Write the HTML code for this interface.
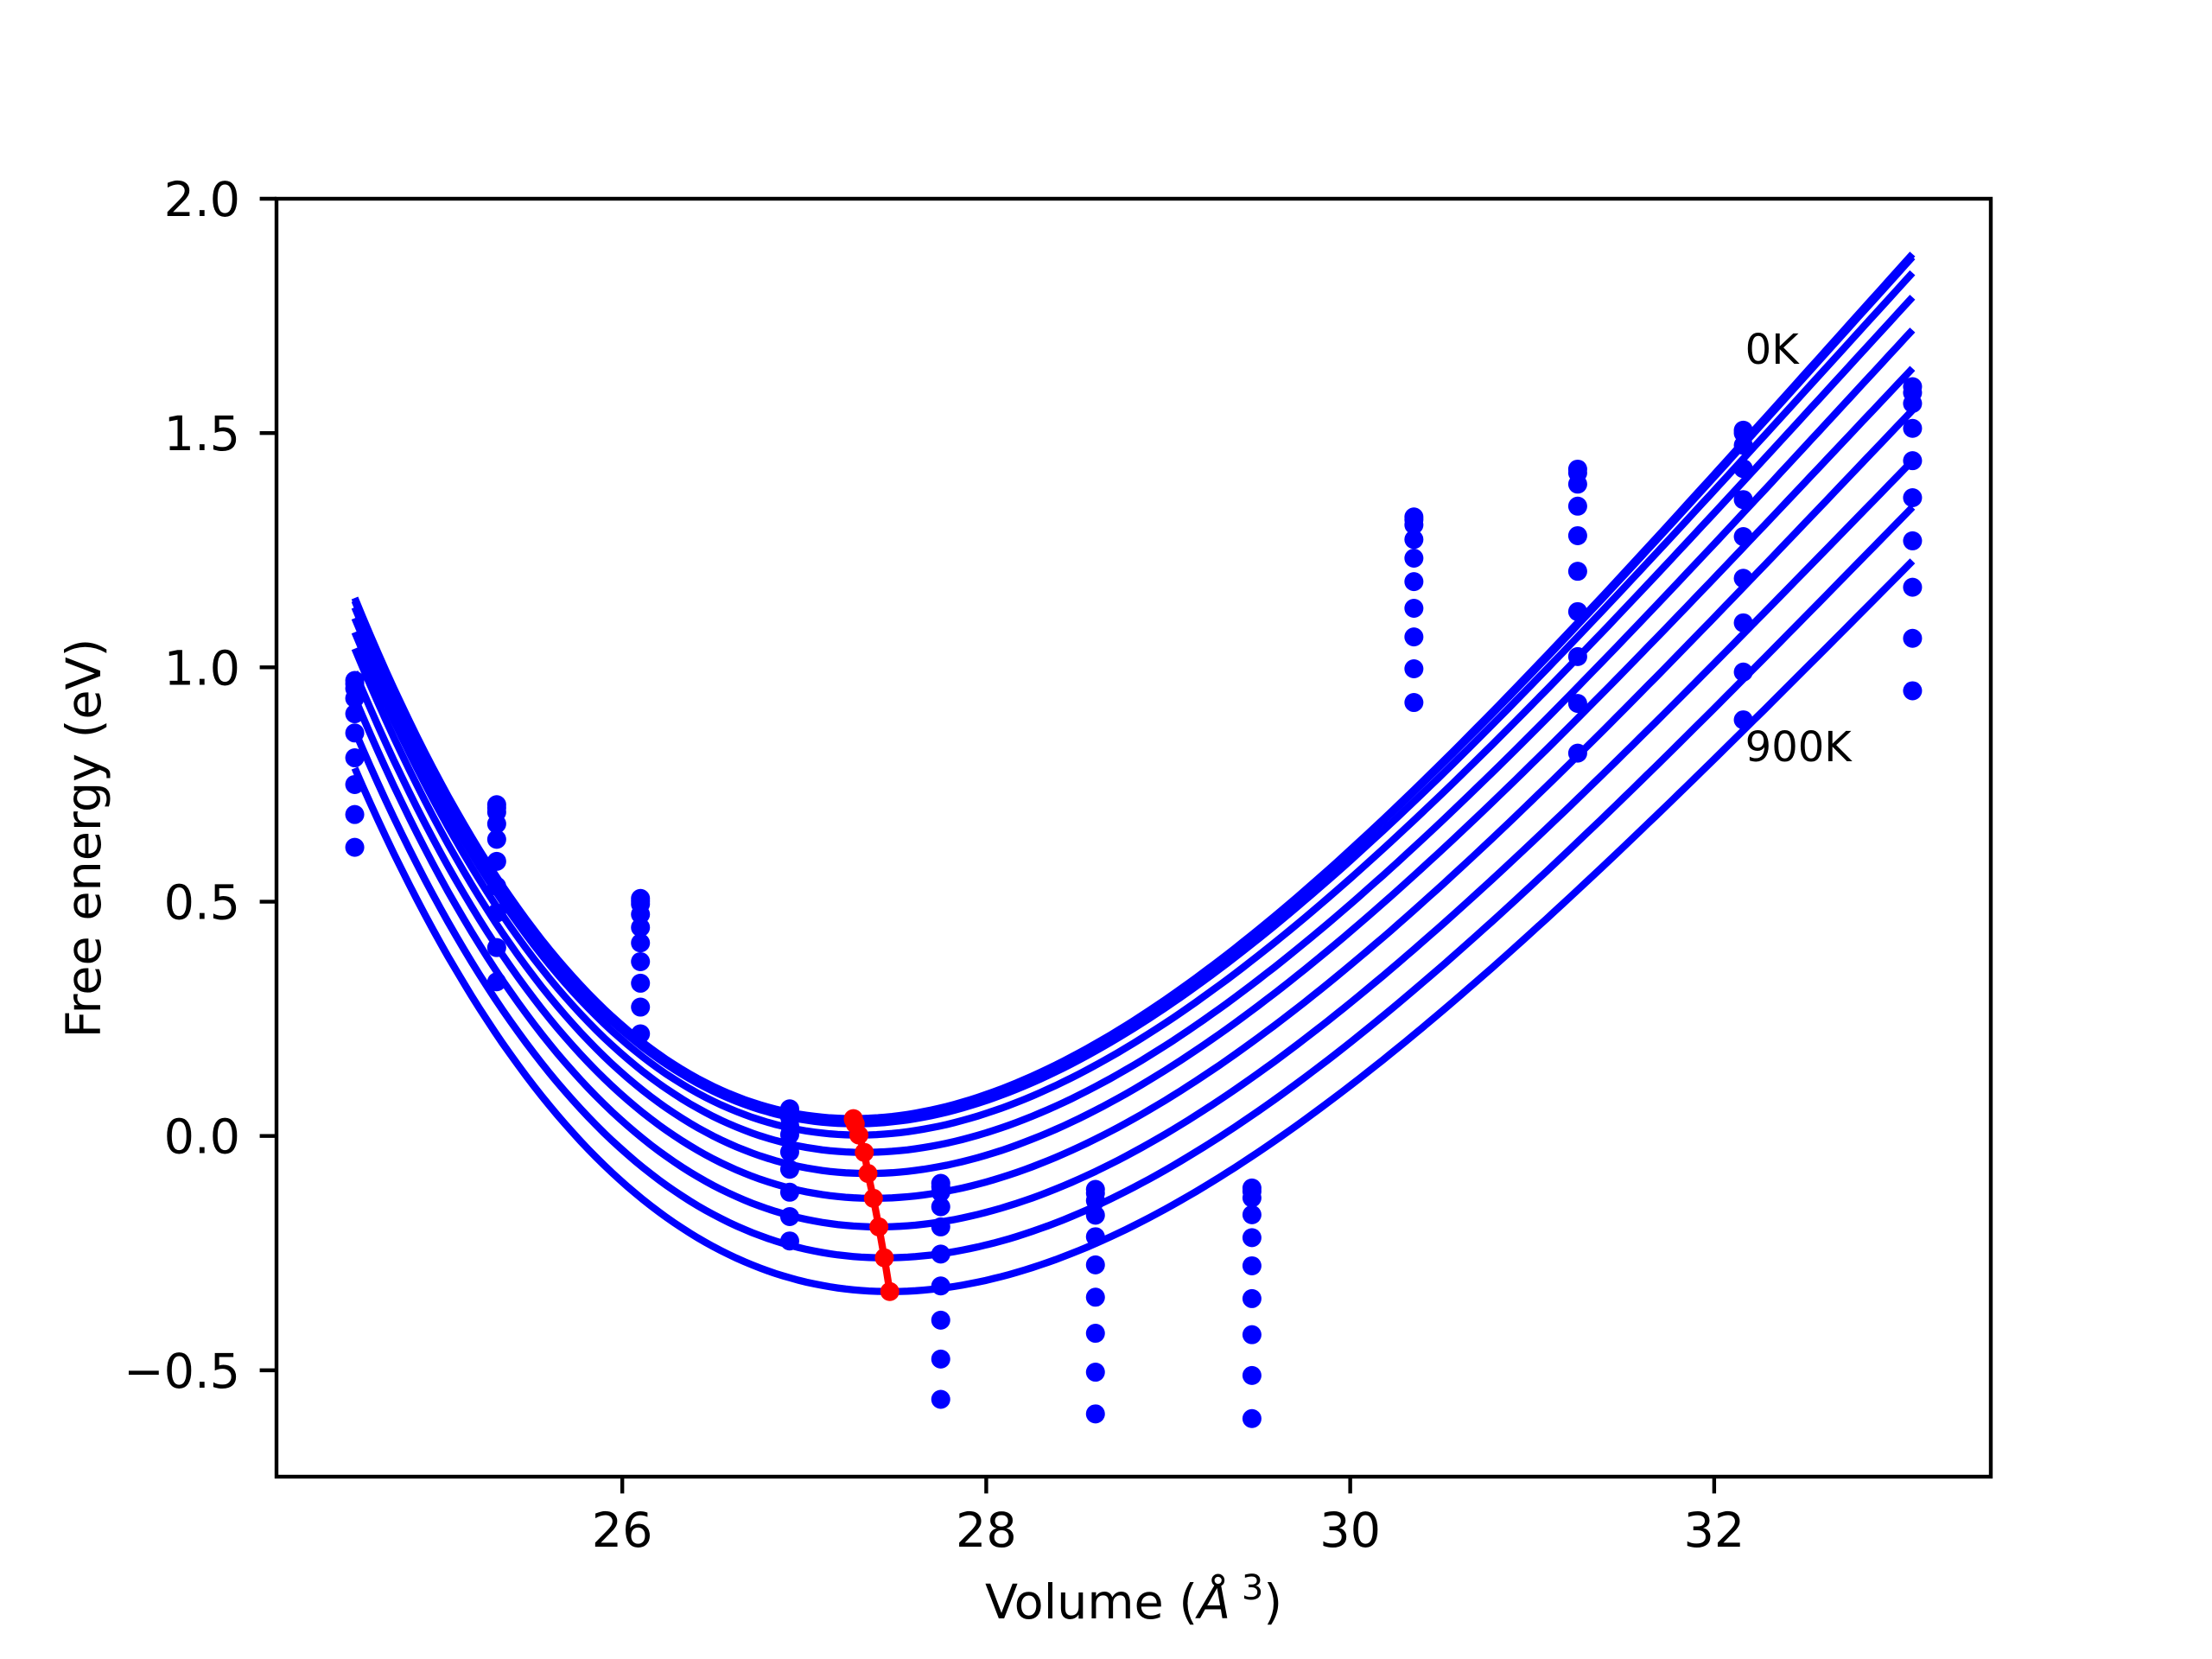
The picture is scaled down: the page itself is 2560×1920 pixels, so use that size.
<!DOCTYPE html>
<html><head><meta charset="utf-8"><style>
html,body{margin:0;padding:0;background:#fff;}
svg{display:block;font-family:"DejaVu Sans","Liberation Sans",sans-serif;}
</style></head><body>
<svg id="chart" width="2560" height="1920" viewBox="0 0 2560 1920" xmlns="http://www.w3.org/2000/svg">
<rect x="0" y="0" width="2560" height="1920" fill="#fff"/>
<g id="plot"></g>
<g id="axes"></g>
</svg>
<script>
// ---- data ----
const volumes = [24.53, 25.31, 26.10, 26.92, 27.75, 28.60, 29.46, 30.35, 31.25, 32.16, 33.09];
const temps = [0,100,200,300,400,500,600,700,800,900];
// energies[i] = column of point energies at volumes[i] (one per temperature, top to bottom)
const energies = [
  [0.972,0.965,0.955,0.934,0.901,0.860,0.807,0.750,0.686,0.616],
  [0.707,0.700,0.691,0.666,0.633,0.586,0.533,0.476,0.402,0.329],
  [0.507,0.501,0.495,0.473,0.445,0.412,0.372,0.326,0.275,0.218],
  [0.058,0.052,0.040,0.022,0.003,-0.034,-0.071,-0.120,-0.172,-0.224],
  [-0.101,-0.108,-0.120,-0.151,-0.194,-0.252,-0.320,-0.393,-0.476,-0.562],
  [-0.114,-0.122,-0.138,-0.169,-0.215,-0.275,-0.344,-0.421,-0.504,-0.593],
  [-0.111,-0.118,-0.132,-0.168,-0.217,-0.277,-0.347,-0.424,-0.511,-0.603],
  [1.321,1.315,1.304,1.273,1.233,1.183,1.126,1.065,0.997,0.925],
  [1.423,1.415,1.391,1.344,1.281,1.205,1.119,1.023,0.923,0.817],
  [1.506,1.500,1.474,1.424,1.358,1.279,1.190,1.095,0.990,0.888],
  [1.599,1.586,1.563,1.510,1.441,1.362,1.270,1.171,1.062,0.950]
];
// fitted minima (red points) per temperature
const minV = [27.27,27.27,27.28,27.30,27.33,27.35,27.38,27.41,27.44,27.47];
const minE = [0.037,0.035,0.026,0.002,-0.035,-0.080,-0.133,-0.194,-0.260,-0.332];
// fitted curve values at the left and right ends
const curveLeftE = [1.148,1.142,1.128,1.105,1.075,1.040,0.990,0.935,0.865,0.785];
const curveRightE = [1.882,1.876,1.842,1.790,1.720,1.638,1.549,1.441,1.342,1.227];
const curveStartV = 24.53, curveEndV = 33.09;
const xTicks = [26,28,30,32];
const xTickLabels = ["26","28","30","32"];
const yTicks = [-0.5,0,0.5,1.0,1.5,2.0];
const yTickLabels = ["\u22120.5","0.0","0.5","1.0","1.5","2.0"];

// ---- axes ----
const L=320,R=2304,T=230,B=1709;
const xMin=24.10,xMax=33.52,yMin=-0.727,yMax=2.0;
function sx(v){return L+(v-xMin)/(xMax-xMin)*(R-L);}
function sy(e){return B-(e-yMin)/(yMax-yMin)*(B-T);}
const NS="http://www.w3.org/2000/svg";
function mk(tag,attrs,parent){const el=document.createElementNS(NS,tag);for(const k in attrs)el.setAttribute(k,attrs[k]);parent.appendChild(el);return el;}
const plot=document.getElementById('plot'), axes=document.getElementById('axes');

// Birch-Murnaghan 3rd order: E = E0 + A f^2 + C f^3, f=(V0/V)^(2/3)-1
temps.forEach((t,i)=>{
  const V0=minV[i],E0=minE[i];
  const d1=curveRightE[i]-E0, d2=curveLeftE[i]-E0;
  const u=Math.pow(V0/curveEndV,2/3)-1, w=Math.pow(V0/curveStartV,2/3)-1;
  const det=u*u*w*w*w - u*u*u*w*w;
  const A=(d1*w*w*w - d2*u*u*u)/det;
  const C=(u*u*d2 - w*w*d1)/det;
  let d='';
  const N=200;
  for(let k=0;k<=N;k++){
    const v=curveStartV+(curveEndV-curveStartV)*k/N;
    const f=Math.pow(V0/v,2/3)-1;
    const e=E0+A*f*f+C*f*f*f;
    d+=(k?'L':'M')+sx(v).toFixed(1)+' '+sy(e).toFixed(1);
  }
  const p=mk('path',{d:d,fill:'none',stroke:'#0000ff','stroke-width':8.3},plot);
  
  
});

// data points
volumes.forEach((v,i)=>{
  energies[i].forEach((e,j)=>{
    const c=mk('circle',{cx:sx(v),cy:sy(e),r:11,fill:'#0000ff'},plot);
    
    
  });
});

// minima line
let md='';
minV.forEach((v,i)=>{md+=(i?'L':'M')+sx(v).toFixed(1)+' '+sy(minE[i]).toFixed(1);});
const ml=mk('path',{d:md,fill:'none',stroke:'#ff0000','stroke-width':8.3},plot);


minV.forEach((v,i)=>{
  const c=mk('circle',{cx:sx(v),cy:sy(minE[i]),r:11,fill:'#ff0000'},plot);
  
  
});

// annotations
const t0=mk('text',{x:sx(32.17),y:sy(1.648),'font-size':48,fill:'#000'},plot);
t0.textContent='0K';


const t9=mk('text',{x:sx(32.17),y:sy(0.800),'font-size':48,fill:'#000'},plot);
t9.textContent='900K';



// frame
const fr=mk('rect',{x:L,y:T,width:R-L,height:B-T,fill:'none',stroke:'#000','stroke-width':4.4},axes);



xTicks.forEach((v,i)=>{
  const x=sx(v);
  const tk=mk('line',{x1:x,y1:B,x2:x,y2:B+19.4,stroke:'#000','stroke-width':4.4},axes);
  
  
  const tl=mk('text',{x:x,y:1790,'font-size':55.6,'text-anchor':'middle',fill:'#000'},axes);
  tl.textContent=xTickLabels[i];
  
  
});
yTicks.forEach((v,i)=>{
  const y=sy(v);
  const tk=mk('line',{x1:L-19.4,y1:y,x2:L,y2:y,stroke:'#000','stroke-width':4.4},axes);
  
  
  const tl=mk('text',{x:278,y:y+20,'font-size':55.6,'text-anchor':'end',fill:'#000'},axes);
  tl.textContent=yTickLabels[i];
  
  
});

const xl=mk('text',{x:1312,y:1873,'font-size':55.6,'text-anchor':'middle',fill:'#000'},axes);
xl.innerHTML='Volume (<tspan font-style="italic">Å</tspan><tspan dy="-22" font-size="40"> 3</tspan><tspan dy="22">)</tspan>';


const yl=mk('text',{x:0,y:0,'font-size':55.6,'text-anchor':'middle',fill:'#000',transform:'translate(116,970) rotate(-90)'},axes);
yl.textContent='Free energy (eV)';


</script>
</body></html>
